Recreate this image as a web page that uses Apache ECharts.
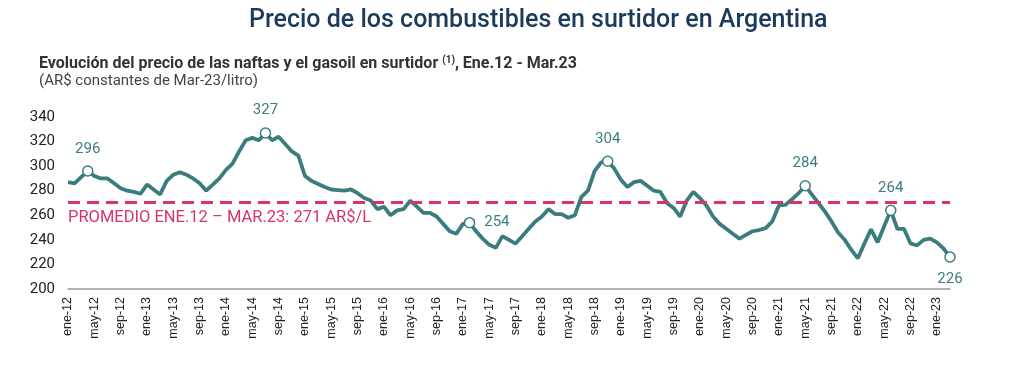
<!DOCTYPE html>
<html>
<head>
<meta charset="utf-8">
<script src="https://cdn.jsdelivr.net/npm/echarts@6/dist/echarts.min.js"></script>
<style>html,body{margin:0;padding:0;background:#fff;}#c{width:1024px;height:383px;}</style>
</head>
<body>
<div id="c"></div>
<script>
const monthNames = ['ene','feb','mar','abr','may','jun','jul','ago','sep','oct','nov','dic'];
const years = ['12','13','14','15','16','17','18','19','20','21','22','23'];
const lastMonthCount = 3; // data ends Mar-23
const categories = [];
years.forEach((y, yi) => {
  const n = yi === years.length - 1 ? lastMonthCount : 12;
  for (let m = 0; m < n; m++) categories.push(monthNames[m] + '-' + y);
});

const prices = [
  287,286,291,296,292,290,290,286,282,280,
  279,277.5,285,281,277,288,293,295,293,290,
  286,280,285,290,297,302,312,321,323,321,
  327,321,324,318,312,308.5,292,288,285.5,283,
  281,280.5,280,281,278,274,272,265,267,260,
  264,265,272,267,262,262,259,253,247,245,
  253,254,247,241,236,233.5,243,240,237,243,
  249,255,259,265,261,261,258,260,275,280,
  296,303,304,298,289,283,287,288,284,280,
  279,270,266,259,272,279,274,268,259,253,
  249,245,241,244,247,248,249.5,255,268,268.5,
  273,278,284,277,270,263,255,246,240,232,
  225,237,248.6,238,251,264,249,249,237,235.5,
  240,241,238,233,226
];

const highlightIdx = [3, 30, 61, 82, 112, 125, 134];
const averageValue = 271;
const averageLabel = 'PROMEDIO ENE.12 – MAR.23: 271 AR$/L';
const yTicks = { min: 200, max: 340, step: 20 };

const titleText = 'Precio de los combustibles en surtidor en Argentina';
const subtitleText = 'Evolución del precio de las naftas y el gasoil en surtidor ';
const subtitleSup = '(1)';
const subtitleTail = ', Ene.12 - Mar.23';
const unitText = '(AR$ constantes de Mar-23/litro)';

const teal = '#3b7d7e';
const pink = '#d8336a';

const labelPos = {134: 'bottom', 61: 'right'};

const chart = echarts.init(document.getElementById('c'), null, {renderer: 'canvas'});
chart.setOption({
  animation: false,
  backgroundColor: '#fff',
  title: [
    {text: titleText, left: 244, top: 3,
     textStyle: {fontFamily: 'Roboto', fontSize: 25, fontWeight: 500, color: '#1c3b5b'}},
    {text: '{b|' + subtitleText + '}{s|' + subtitleSup + '}{b|' + subtitleTail + '}\n{n|' + unitText + '}',
     left: 34, top: 50,
     textStyle: {fontWeight: 'normal', rich: {
       b: {fontFamily: 'Roboto', fontSize: 16, fontWeight: 'bold', color: '#333', lineHeight: 18},
       s: {fontFamily: 'Roboto', fontSize: 10, fontWeight: 'bold', color: '#333', verticalAlign: 'top', lineHeight: 18, padding: [0,0,6,0]},
       n: {fontFamily: 'Roboto', fontSize: 15, fontWeight: 'normal', color: '#444', lineHeight: 17}
     }}}
  ],
  grid: {left: 68, right: 74, top: 117, bottom: 94, containLabel: false},
  xAxis: {
    type: 'category', data: categories, boundaryGap: false,
    axisLine: {lineStyle: {color: '#9a9a9a', width: 1.5}},
    axisTick: {show: false},
    axisLabel: {interval: 3, rotate: 90, fontFamily: 'Liberation Sans', fontSize: 12.5, color: '#222', margin: 8}
  },
  yAxis: {
    type: 'value', min: yTicks.min, max: yTicks.max, interval: yTicks.step,
    axisLine: {show: false}, axisTick: {show: false}, splitLine: {show: false},
    axisLabel: {fontFamily: 'Roboto', fontSize: 15, color: '#222', margin: 13}
  },
  series: [
    {
      type: 'line', data: prices, showSymbol: false, symbol: 'none',
      lineStyle: {color: teal, width: 3.8}, z: 3,
      markLine: {
        silent: true, symbol: 'none',
        lineStyle: {color: pink, width: 3, type: [12, 7]},
        label: {show: true, position: 'insideStartBottom', formatter: averageLabel,
                fontFamily: 'Roboto', fontSize: 16.5, color: pink, distance: [0, 8]},
        data: [{yAxis: averageValue}]
      }
    },
    {
      type: 'scatter', z: 5,
      data: highlightIdx.map(i => ({
        value: [i, prices[i]],
        label: {position: labelPos[i] || 'top'}
      })),
      symbol: 'circle', symbolSize: 10,
      itemStyle: {color: '#fff', borderColor: teal, borderWidth: 1.5, opacity: 1},
      label: {show: true, formatter: p => Math.round(p.value[1]), fontFamily: 'Roboto', fontSize: 15,
              color: teal, distance: 9}
    }
  ]
});
</script>
</body>
</html>
